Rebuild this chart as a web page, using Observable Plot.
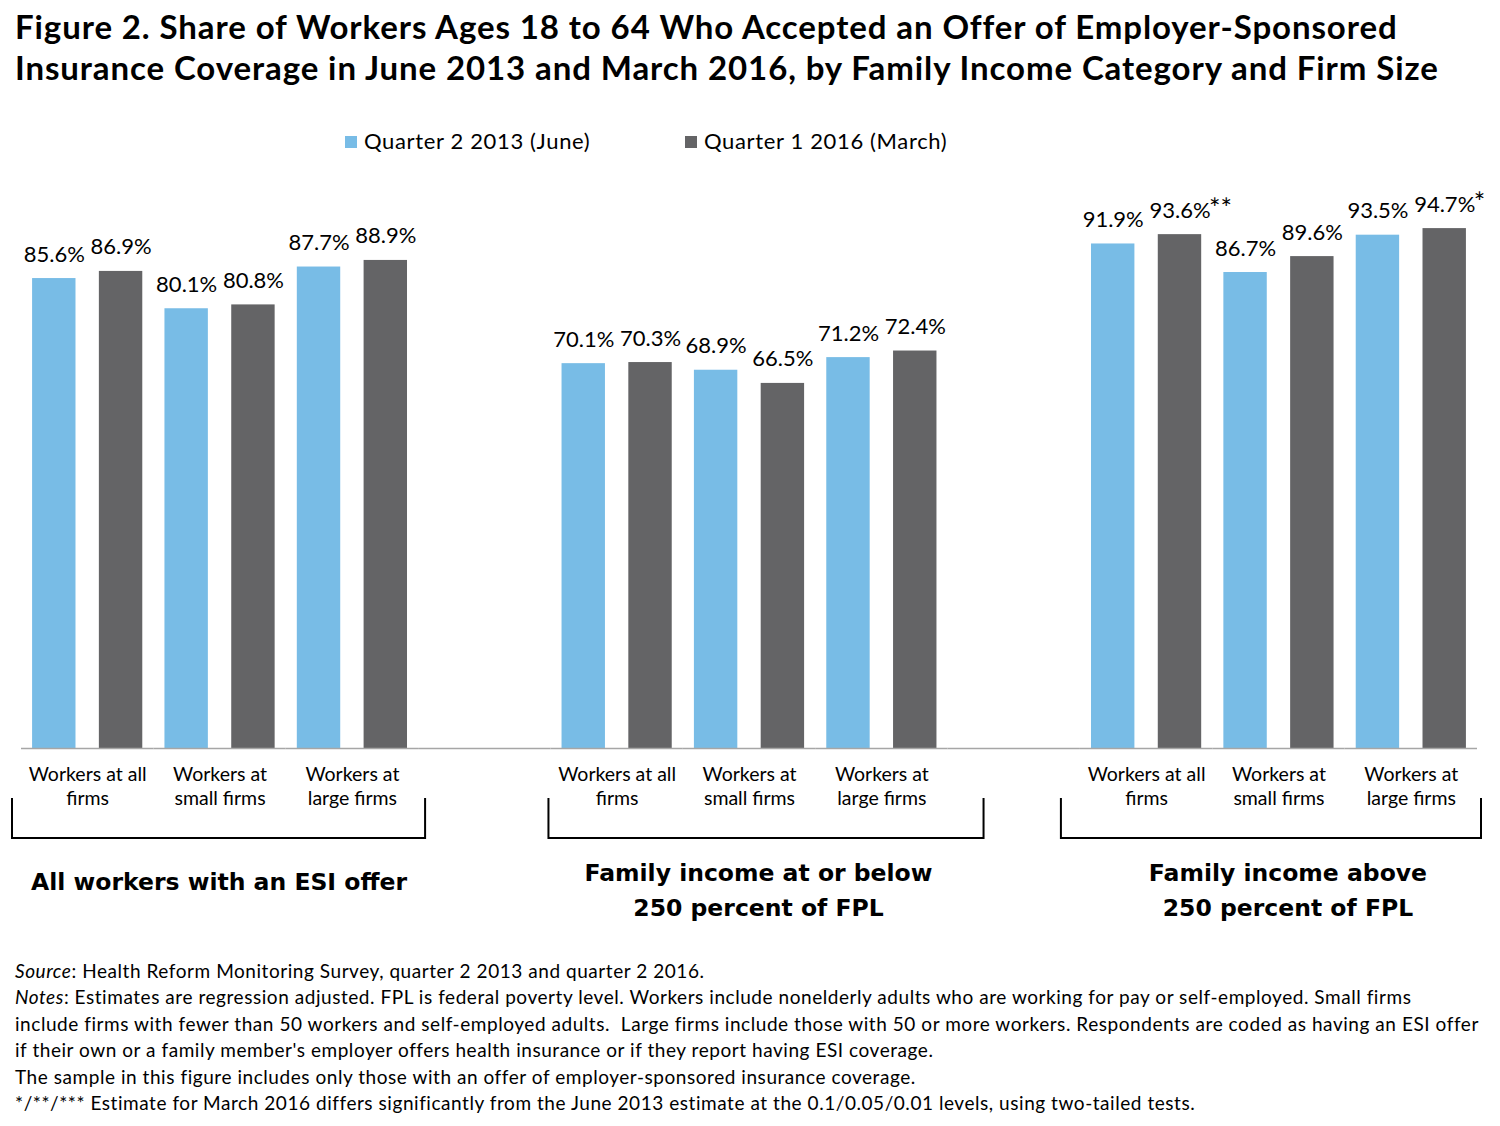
<!DOCTYPE html>
<html><head><meta charset="utf-8">
<script src="https://cdn.jsdelivr.net/npm/d3@7"></script>
<script src="https://cdn.jsdelivr.net/npm/@observablehq/plot@0.6"></script>
<style>
body{margin:0;background:#fff;font-family:Lato,"Open Sans",sans-serif;color:#000}
#wrap{width:1500px;position:relative}
#title{padding:6px 0 0 15px;font-weight:700;font-size:33px;line-height:41px;white-space:nowrap;letter-spacing:0.9px}
#legend{position:relative;margin-top:40px;height:26px;font-size:22px;line-height:26px;letter-spacing:0.65px}
#legend .item{position:absolute;top:0;white-space:nowrap}
#legend .sw{display:inline-block;width:12px;height:12px;margin-right:7px;vertical-align:1px}
#chart{margin-top:6px;height:798px}
#chart svg{display:block}
#notes{padding-left:15px;font-size:19px;line-height:26.4px;white-space:nowrap;letter-spacing:0.55px}
</style></head>
<body>
<div id="wrap">
<div id="title">Figure 2. Share of Workers Ages 18 to 64 Who Accepted an Offer of Employer-Sponsored<br>Insurance Coverage in June 2013 and March 2016, by Family Income Category and Firm Size</div>
<div id="legend"></div>
<div id="chart"></div>
<div id="notes">
<i>Source</i>: Health Reform Monitoring Survey, quarter 2 2013 and quarter 2 2016.<br>
<i>Notes</i>: Estimates are regression adjusted. FPL is federal poverty level. Workers include nonelderly adults who are working for pay or self-employed. Small firms<br>
include firms with fewer than 50 workers and self-employed adults.&nbsp; Large firms include those with 50 or more workers. Respondents are coded as having an ESI offer<br>
if their own or a family member's employer offers health insurance or if they report having ESI coverage.<br>
The sample in this figure includes only those with an offer of employer-sponsored insurance coverage.<br>
*/**/*** Estimate for March 2016 differs significantly from the June 2013 estimate at the 0.1/0.05/0.01 levels, using two-tailed tests.
</div>
</div>
<script>
// ---- data ----
const groups = ["All workers with an ESI offer", "Family income at or below\n250 percent of FPL", "Family income above\n250 percent of FPL"];
const categories = ["Workers at all\nfirms", "Workers at\nsmall firms", "Workers at\nlarge firms"];
const seriesNames = ["Quarter 2 2013 (June)", "Quarter 1 2016 (March)"];
const seriesColors = ["#78bce6", "#646466"];
// values listed group by group, category by category
const june2013 = [85.6, 80.1, 87.7, 70.1, 68.9, 71.2, 91.9, 86.7, 93.5];
const march2016 = [86.9, 80.8, 88.9, 70.3, 66.5, 72.4, 93.6, 89.6, 94.7];
const march2016Sig = ["", "", "", "", "", "", "**", "", "*"];

// ---- build table ----
const slots = [];
const rows = [];
const slotRows = [];
groups.forEach((g, gi) => {
  if (gi > 0) {
    const gap = "gap" + gi;
    slots.push(gap);
    rows.push({slot: gap, series: seriesNames[0], value: null, sig: ""});
  }
  categories.forEach((c, ci) => {
    const k = gi * categories.length + ci;
    const slot = gi + "|" + ci;
    slots.push(slot);
    slotRows.push({slot, group: gi, cat: ci, category: c, groupLabel: g});
    rows.push({slot, series: seriesNames[0], value: june2013[k], sig: ""});
    rows.push({slot, series: seriesNames[1], value: march2016[k], sig: march2016Sig[k]});
  });
});
const valued = rows.filter(d => d.value != null);
const middleSlots = slotRows.filter(d => d.cat === 1);

// ---- legend ----
const legend = document.getElementById("legend");
const legendLeft = [345, 685];
seriesNames.forEach((s, i) => {
  const it = document.createElement("span");
  it.className = "item";
  it.style.left = legendLeft[i] + "px";
  it.innerHTML = `<span class="sw" style="background:${seriesColors[i]}"></span>${s}`;
  legend.appendChild(it);
});

// ---- chart ----
const H = 798;
const groupFont = "'DejaVu Sans', sans-serif";
const plot = Plot.plot({
  width: 1500,
  height: H,
  marginLeft: 21,
  marginRight: 23,
  marginTop: 39,
  marginBottom: 210,
  style: {fontFamily: "Lato, sans-serif", color: "#000", background: "#fff", overflow: "visible"},
  fx: {domain: slots, padding: 0, axis: null, round: false},
  x: {domain: seriesNames, paddingInner: 0.35, paddingOuter: 0.166, axis: null, round: false},
  y: {domain: [0, 100], axis: null},
  color: {domain: seriesNames, range: seriesColors},
  marks: [
    Plot.barY(rows, {fx: "slot", x: "series", y: "value", fill: "series"}),
    Plot.ruleY([0], {stroke: "#a6a6a6", strokeWidth: 1.5}),
    Plot.text(valued, {fx: "slot", x: "series", y: "value", text: d => d.value.toFixed(1) + "%", dy: -24, fontSize: 22}),
    Plot.text(valued.filter(d => d.sig), {fx: "slot", x: "series", y: "value", text: "sig", textAnchor: "start", dx: 29, dy: -25, fontSize: 27, fill: "#000", style: {letterSpacing: "-1px"}}),
    Plot.text(slotRows, {fx: "slot", text: "category", frameAnchor: "bottom", lineAnchor: "top", dy: 16, fontSize: 19.5, lineHeight: 1.2, style: {letterSpacing: "0.45px"}}),
    Plot.text(middleSlots.filter(d => d.group === 0), {fx: "slot", text: "groupLabel", frameAnchor: "bottom", lineAnchor: "top", dy: 125, dx: -1, fontSize: 23.5, fontWeight: "bold", fontFamily: groupFont}),
    Plot.text(middleSlots.filter(d => d.group > 0), {fx: "slot", text: "groupLabel", frameAnchor: "bottom", lineAnchor: "top", dy: 108, dx: 9, fontSize: 23.5, fontWeight: "bold", fontFamily: groupFont, lineHeight: 1.49})
  ]
});
document.getElementById("chart").appendChild(plot);

// ---- brackets under each group, from the fx and y scales ----
const fx = plot.scale("fx");
const yS = plot.scale("y");
const base = yS.apply(0);
const bw = fx.bandwidth;
const pads = [[9, 7], [2, 36], [19, 4]];
const svg = d3.select(plot);
groups.forEach((g, gi) => {
  const first = fx.apply(gi + "|0");
  const last = fx.apply(gi + "|" + (categories.length - 1)) + bw;
  const l = first - pads[gi][0], r = last + pads[gi][1];
  const t = base + 50, b = base + 90;
  svg.append("path")
    .attr("d", `M${l},${t}V${b}H${r}V${t}`)
    .attr("fill", "none").attr("stroke", "#000").attr("stroke-width", 2);
});
</script>
</body></html>
